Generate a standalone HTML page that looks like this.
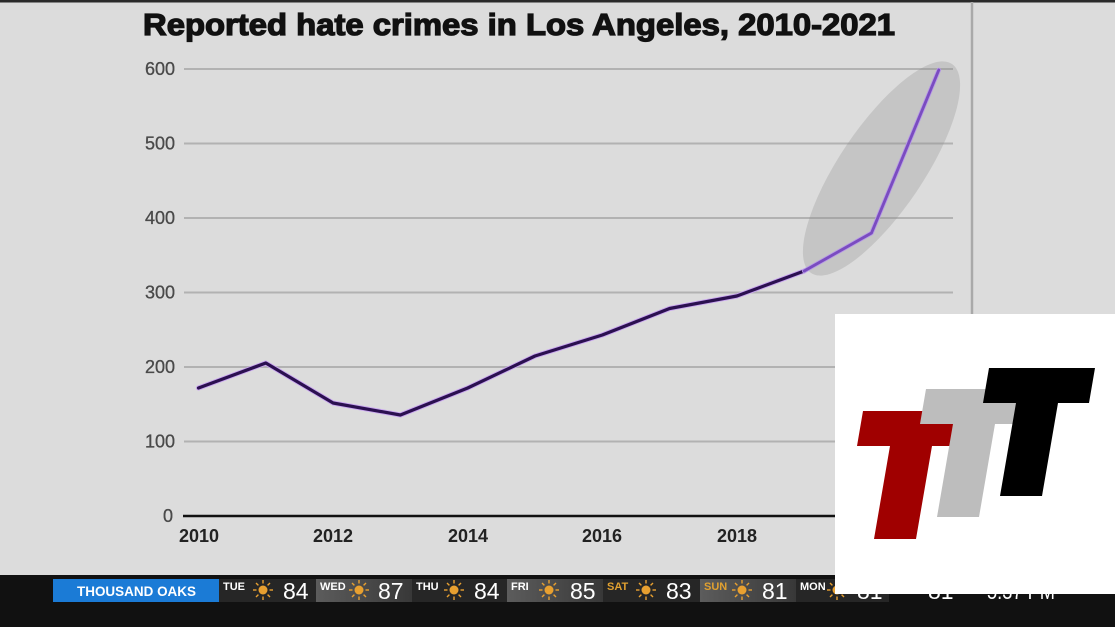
<!DOCTYPE html>
<html>
<head>
<meta charset="utf-8">
<style>
  html,body{margin:0;padding:0;background:#dcdcdc;}
  body{width:1115px;height:627px;overflow:hidden;}
  svg{display:block;}
</style>
</head>
<body>
<svg width="1115" height="627" viewBox="0 0 1115 627" xmlns="http://www.w3.org/2000/svg">
  <!-- chart background -->
  <rect x="0" y="0" width="1115" height="575" fill="#dcdcdc"/>
  <rect x="0" y="0" width="1115" height="2.5" fill="#2a2a2a"/>
  <!-- right separator -->
  <line x1="972" y1="2" x2="972" y2="575" stroke="#a9a9a9" stroke-width="2.5"/>

  <!-- title -->
  <text x="143" y="35" font-family="Liberation Sans, Arial, sans-serif" font-weight="bold" font-size="31" fill="#111" stroke="#111" stroke-width="1.3" textLength="752" lengthAdjust="spacingAndGlyphs">Reported hate crimes in Los Angeles, 2010-2021</text>

  <!-- gridlines -->
  <g stroke="#b2b2b2" stroke-width="2">
    <line x1="184" y1="69" x2="953" y2="69"/>
    <line x1="184" y1="143.5" x2="953" y2="143.5"/>
    <line x1="184" y1="218" x2="953" y2="218"/>
    <line x1="184" y1="292.5" x2="953" y2="292.5"/>
    <line x1="184" y1="367" x2="953" y2="367"/>
    <line x1="184" y1="441.5" x2="953" y2="441.5"/>
  </g>
  <line x1="183" y1="516" x2="953" y2="516" stroke="#111" stroke-width="2.5"/>

  <!-- y labels -->
  <g font-family="Liberation Sans, Arial, sans-serif" font-size="18" fill="#4a4a4a" stroke="#4a4a4a" stroke-width="0.3" text-anchor="end">
    <text x="175" y="75">600</text>
    <text x="175" y="149.5">500</text>
    <text x="175" y="224">400</text>
    <text x="175" y="298.5">300</text>
    <text x="175" y="373">200</text>
    <text x="175" y="447.5">100</text>
    <text x="173" y="522">0</text>
  </g>

  <!-- x labels -->
  <g font-family="Liberation Sans, Arial, sans-serif" font-size="18" font-weight="bold" fill="#222" text-anchor="middle">
    <text x="199" y="542">2010</text>
    <text x="333" y="542">2012</text>
    <text x="468" y="542">2014</text>
    <text x="602" y="542">2016</text>
    <text x="737" y="542">2018</text>
    <text x="871" y="542">2020</text>
  </g>

  <!-- highlight ellipse -->
  <ellipse cx="881.5" cy="168.5" rx="126" ry="42" transform="rotate(-56 881.5 168.5)" fill="rgba(140,140,140,0.28)"/>

  <!-- series -->
  <polyline fill="none" stroke="#c9a6f0" stroke-width="5" stroke-linejoin="round" stroke-linecap="round"
    points="198.5,388 265.8,363 333.1,403 400.4,415 467.7,388 535,356 602.3,335 669.6,308.5 736.9,296 804.2,271"/>
  <polyline fill="none" stroke="#2b1050" stroke-width="3.2" stroke-linejoin="round" stroke-linecap="round"
    points="198.5,388 265.8,363 333.1,403 400.4,415 467.7,388 535,356 602.3,335 669.6,308.5 736.9,296 804.2,271"/>
  <polyline fill="none" stroke="#b79ae6" stroke-width="4.5" stroke-linejoin="round" stroke-linecap="round"
    points="804.2,271 871.5,233 938.8,70"/>
  <polyline fill="none" stroke="#7a4cc0" stroke-width="2.8" stroke-linejoin="round" stroke-linecap="round"
    points="804.2,271 871.5,233 938.8,70"/>

  <!-- ticker -->
  <rect x="0" y="575" width="1115" height="52" fill="#111"/>
  <rect x="53" y="579" width="166" height="23" fill="#1b7bd6"/>
  <text x="136.5" y="596" text-anchor="middle" font-family="Liberation Sans, Arial, sans-serif" font-weight="bold" font-size="13.5" fill="#fff" textLength="119" lengthAdjust="spacingAndGlyphs">THOUSAND OAKS</text>

  <defs>
    <linearGradient id="lg" x1="0" y1="0" x2="1" y2="0">
      <stop offset="0" stop-color="#5c5c5c"/>
      <stop offset="1" stop-color="#383838"/>
    </linearGradient>
    <g id="sun">
      <circle cx="0" cy="0" r="4.5" fill="#e8a030"/>
      <g stroke="#e8a030" stroke-width="1.4">
        <line x1="0" y1="-10" x2="0" y2="-6.5"/>
        <line x1="0" y1="6.5" x2="0" y2="10"/>
        <line x1="-10" y1="0" x2="-6.5" y2="0"/>
        <line x1="6.5" y1="0" x2="10" y2="0"/>
        <line x1="-7" y1="-7" x2="-4.6" y2="-4.6"/>
        <line x1="4.6" y1="4.6" x2="7" y2="7"/>
        <line x1="-7" y1="7" x2="-4.6" y2="4.6"/>
        <line x1="4.6" y1="-4.6" x2="7" y2="-7"/>
      </g>
    </g>
  </defs>

  <!-- segments -->
  <rect x="219" y="579" width="97" height="23" fill="#262626"/>
  <rect x="316" y="579" width="96" height="23" fill="url(#lg)"/>
  <rect x="412" y="579" width="95" height="23" fill="#262626"/>
  <rect x="507" y="579" width="96" height="23" fill="url(#lg)"/>
  <rect x="603" y="579" width="97" height="23" fill="#262626"/>
  <rect x="700" y="579" width="96" height="23" fill="url(#lg)"/>
  <rect x="796" y="579" width="93" height="23" fill="#262626"/>

  <g font-family="Liberation Sans, Arial, sans-serif" font-weight="bold" font-size="11" fill="#fff">
    <text x="223" y="590">TUE</text>
    <text x="320" y="590">WED</text>
    <text x="416" y="590">THU</text>
    <text x="511" y="590">FRI</text>
    <text x="607" y="590" fill="#e0a030">SAT</text>
    <text x="704" y="590" fill="#e0a030">SUN</text>
    <text x="800" y="590">MON</text>
  </g>
  <use href="#sun" x="263" y="590"/>
  <use href="#sun" x="359" y="590"/>
  <use href="#sun" x="454" y="590"/>
  <use href="#sun" x="549" y="590"/>
  <use href="#sun" x="646" y="590"/>
  <use href="#sun" x="742" y="590"/>
  <use href="#sun" x="837" y="590"/>
  <g font-family="Liberation Sans, Arial, sans-serif" font-size="23" fill="#fff">
    <text x="283" y="599">84</text>
    <text x="378" y="599">87</text>
    <text x="474" y="599">84</text>
    <text x="570" y="599">85</text>
    <text x="666" y="599">83</text>
    <text x="762" y="599">81</text>
    <text x="857" y="599">81</text>
    <text x="928" y="599">81</text>
    <text x="987" y="599" textLength="68" lengthAdjust="spacingAndGlyphs">5:37 PM</text>
  </g>

  <!-- logo -->
  <rect x="835" y="314" width="280" height="280" fill="#ffffff"/>
  <polygon fill="#a00000" points="863,411 969,411 963,446 932,446 916,539 874,539 890,446 857,446"/>
  <polygon fill="#bdbdbd" points="926,389 1032,389 1026,424 995,424 979,517 937,517 953,424 920,424"/>
  <polygon fill="#000000" points="989,368 1095,368 1089,403 1058,403 1042,496 1000,496 1016,403 983,403"/>
</svg>
</body>
</html>
